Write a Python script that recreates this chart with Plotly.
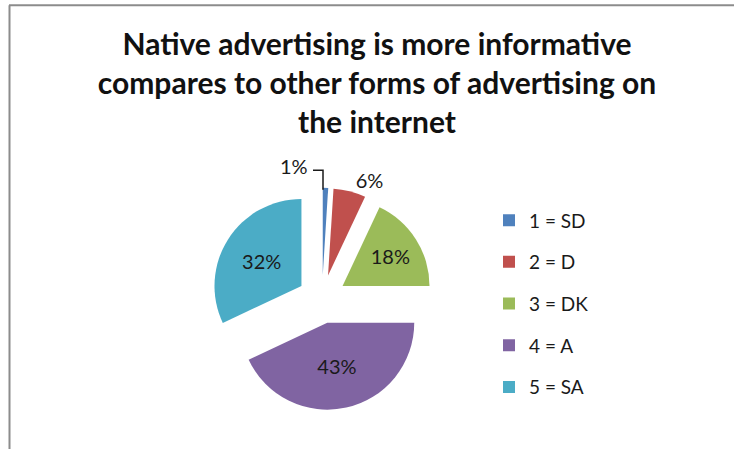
import plotly.graph_objects as go

# Survey responses (percent of respondents)
categories = ["1 = SD", "2 = D", "3 = DK", "4 = A", "5 = SA"]
shares = [1, 6, 18, 43, 32]
colors = ["#4F81BD", "#C0504D", "#9BBB59", "#8064A2", "#4BACC6"]
label_positions = ["none", "outside", "inside", "inside", "inside"]

title_text = ("<b>Native advertising is more informative<br>"
              "compares to other forms of advertising on<br>"
              "the internet</b>")

W, H = 734, 464
FONT = "Lato, Liberation Sans, sans-serif"

fig = go.Figure()

fig.add_trace(go.Pie(
    labels=categories,
    values=shares,
    sort=False,
    direction="clockwise",
    rotation=0,
    pull=[0.28] * len(shares),
    marker=dict(colors=colors, line=dict(width=0)),
    texttemplate="%{value}%",
    textposition=label_positions,
    insidetextorientation="horizontal",
    textfont=dict(family=FONT, size=20, color="#1a1a1a"),
    showlegend=False,
    hoverinfo="label+percent",
    domain=dict(x=[207 / W, 437 / W], y=[40 / H, 270 / H]),
))

# Legend entries as square markers, one group each so the gap can be set
for name, col in zip(categories, colors):
    fig.add_trace(go.Scatter(
        x=[None], y=[None], mode="markers", name=name,
        legendgroup=name,
        marker=dict(symbol="square", size=12, color=col),
    ))

# Small first slice gets its label off to the left with an elbow leader
fig.add_annotation(
    text=f"{shares[0]}%", xref="paper", yref="paper",
    x=310 / W, y=1 - 172 / H, xanchor="right", yanchor="middle",
    showarrow=False, font=dict(family=FONT, size=20, color="#1a1a1a"),
)

fig.update_layout(
    width=W, height=H,
    margin=dict(l=0, r=0, t=0, b=0),
    paper_bgcolor="white",
    plot_bgcolor="white",
    title=dict(
        text=title_text,
        x=377 / W, xanchor="center",
        y=1 - 55 / H, yanchor="top",
        font=dict(family=FONT, size=30, color="#111111"),
    ),
    xaxis=dict(visible=False),
    yaxis=dict(visible=False),
    legend=dict(
        x=489 / W, xanchor="left",
        y=1 - 208 / H, yanchor="top",
        font=dict(family=FONT, size=19, color="#1a1a1a"),
        tracegroupgap=14,
        bgcolor="rgba(0,0,0,0)",
    ),
    shapes=[
        dict(type="line", xref="paper", yref="paper",
             x0=9 / W, x1=1, y0=1 - 5.5 / H, y1=1 - 5.5 / H,
             line=dict(color="#8c8c8c", width=2)),
        dict(type="line", xref="paper", yref="paper",
             x0=9.5 / W, x1=9.5 / W, y0=0, y1=1 - 5.5 / H,
             line=dict(color="#8c8c8c", width=2)),
        dict(type="path", xref="paper", yref="paper",
             path=(f"M {313 / W},{1 - 176 / H} L {323 / W},{1 - 176 / H} "
                   f"L {323 / W},{1 - 196 / H}"),
             line=dict(color="#1a1a1a", width=1.5)),
    ],
)

fig.write_html("out.html")
